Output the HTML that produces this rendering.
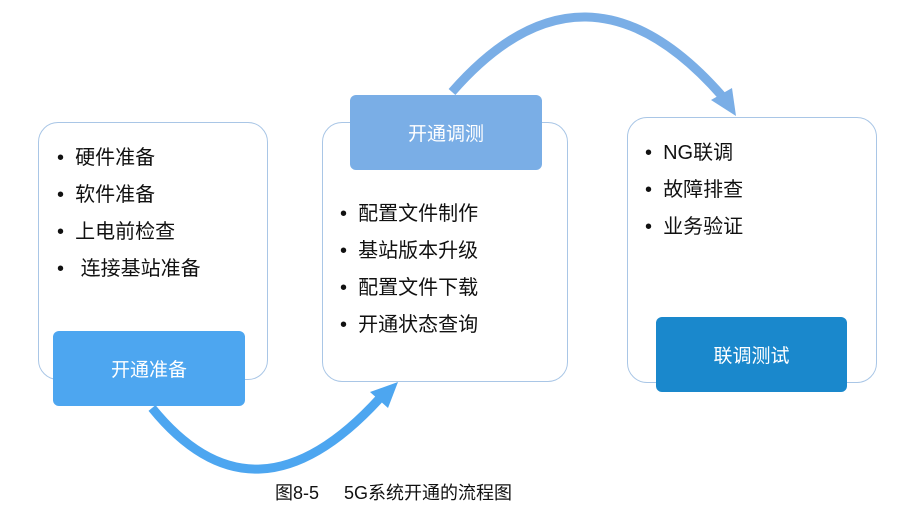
<!DOCTYPE html>
<html><head><meta charset="utf-8"><style>
body{margin:0;width:914px;height:525px;background:#fff;position:relative;overflow:hidden;font-family:"Liberation Sans","Noto Sans CJK SC",sans-serif;}
.o{position:absolute;border:1.5px solid #a9c6e6;border-radius:20px;background:#fff;box-sizing:border-box;}
.l{position:absolute;border-radius:6px;color:#fff;font-size:19px;display:flex;align-items:center;justify-content:center;}
.t{position:absolute;font-size:20px;color:#111;line-height:20px;white-space:nowrap;}
</style></head><body>
<svg width="914" height="525" style="position:absolute;left:0;top:0">
<path d="M152,408 Q255,535 380,398" fill="none" stroke="#4da6f0" stroke-width="9"/>
<polygon points="398,382 370,392 388,408" fill="#4da6f0"/>
<path d="M452,92 Q585,-60 722,96" fill="none" stroke="#7aaee6" stroke-width="9"/>
<polygon points="736,116 711,100 732,88" fill="#7aaee6"/>
</svg>
<div class="o" style="left:38px;top:122px;width:230px;height:258px"></div>
<div class="l" style="left:53px;top:331px;width:192px;height:75px;background:#4da6f0">开通准备</div>
<div class="o" style="left:322px;top:122px;width:246px;height:260px"></div>
<div class="l" style="left:350px;top:95px;width:192px;height:75px;background:#7aaee6">开通调测</div>
<div class="o" style="left:627px;top:117px;width:250px;height:266px"></div>
<div class="l" style="left:656px;top:317px;width:191px;height:75px;background:#1a88cc">联调测试</div>
<div class="t" style="left:57px;top:148px">•&nbsp; 硬件准备</div>
<div class="t" style="left:57px;top:185px">•&nbsp; 软件准备</div>
<div class="t" style="left:57px;top:222px">•&nbsp; 上电前检查</div>
<div class="t" style="left:57px;top:259px">•&nbsp;&nbsp; 连接基站准备</div>
<div class="t" style="left:340px;top:204px">•&nbsp; 配置文件制作</div>
<div class="t" style="left:340px;top:241px">•&nbsp; 基站版本升级</div>
<div class="t" style="left:340px;top:278px">•&nbsp; 配置文件下载</div>
<div class="t" style="left:340px;top:315px">•&nbsp; 开通状态查询</div>
<div class="t" style="left:645px;top:143px">•&nbsp; NG联调</div>
<div class="t" style="left:645px;top:180px">•&nbsp; 故障排查</div>
<div class="t" style="left:645px;top:217px">•&nbsp; 业务验证</div>
<div class="t" style="left:275px;top:483px;font-size:18px">图8-5&nbsp;&nbsp;&nbsp;&nbsp; 5G系统开通的流程图</div>
</body></html>
